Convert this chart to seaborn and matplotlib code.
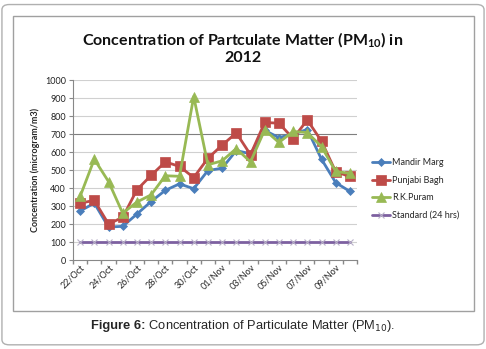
import matplotlib
matplotlib.use("Agg")
import matplotlib.pyplot as plt
from matplotlib.patches import FancyBboxPatch, Rectangle
import seaborn as sns
import pandas as pd

dates = ["22/Oct", "23/Oct", "24/Oct", "25/Oct", "26/Oct", "27/Oct", "28/Oct", "29/Oct",
         "30/Oct", "31/Oct", "01/Nov", "02/Nov", "03/Nov", "04/Nov", "05/Nov", "06/Nov",
         "07/Nov", "08/Nov", "09/Nov", "10/Nov"]
mandir_marg = [272, 316, 183, 187, 255, 325, 387, 423, 396, 497, 510, 608, 590, 720,
               680, 700, 725, 560, 430, 381]
punjabi_bagh = [316, 331, 200, 237, 390, 470, 545, 520, 458, 565, 638, 706, 585, 764,
                760, 675, 778, 660, 490, 464]
rk_puram = [353, 560, 436, 260, 322, 362, 468, 465, 908, 529, 551, 619, 545, 723,
            653, 714, 708, 630, 492, 481]
standard = [100] * 20
series_names = ["Mandir Marg", "Punjabi Bagh", "R.K.Puram", "Standard (24 hrs)"]

sns.set_theme(style="white")
plt.rcParams["font.family"] = ["Lato", "DejaVu Sans"]
plt.rcParams["mathtext.fontset"] = "custom"
plt.rcParams["mathtext.rm"] = "Lato"
plt.rcParams["mathtext.bf"] = "Lato:bold"
plt.rcParams["mathtext.it"] = "Lato:italic"

fig = plt.figure(figsize=(4.86, 3.49), dpi=100)

# outer rounded frame
fig.patches.append(FancyBboxPatch((0.004, 0.012), 0.992, 0.975,
                                  boxstyle="round,pad=0,rounding_size=0.015",
                                  transform=fig.transFigure, fill=False,
                                  edgecolor="#b0b0b0", linewidth=1.0))
# chart box
fig.patches.append(Rectangle((0.027, 0.108), 0.948, 0.845, transform=fig.transFigure,
                             fill=False, edgecolor="#a0a0a0", linewidth=1.0))

ax = fig.add_axes([73 / 486, 1 - 260 / 349, (357 - 73) / 486, (260 - 80) / 349])

colors = ["#4A7EBB", "#BE4B48", "#98B954", "#7D60A0"]
markers = ["D", "s", "^", "x"]
msizes = [4, 7, 7, 5]
values = [mandir_marg, punjabi_bagh, rk_puram, standard]
xs = list(range(len(dates)))
for name, vals, c, m, ms in zip(series_names, values, colors, markers, msizes):
    df = pd.DataFrame({"x": xs, "y": vals})
    mec = c if m != "x" else "#b8b0c8"
    sns.lineplot(data=df, x="x", y="y", ax=ax, color=c, linewidth=2.0, marker=m,
                 markersize=ms, markeredgecolor=mec, markerfacecolor=c,
                 markeredgewidth=0.8 if m == "x" else 0.5, label=name)

ax.set_xlim(-0.5, len(dates) - 0.5)
ax.set_ylim(0, 1000)
ax.set_yticks(range(0, 1001, 100))
ax.tick_params(axis="y", labelsize=6.5, colors="#888888", labelcolor="#222222",
               pad=2, length=3, width=0.8, direction="out", left=True)
ax.set_xticks(xs[::2])
ax.set_xticklabels(dates[::2], rotation=45, ha="right", rotation_mode="anchor", fontsize=6.5)
ax.tick_params(axis="x", pad=2, length=0)
ax.set_xticks([x - 0.5 for x in xs] + [len(dates) - 0.5], minor=True)
ax.tick_params(axis="x", which="minor", length=3, color="#888888", direction="out",
               bottom=True)
ax.set_xlabel("")
ax.set_ylabel("Concentration (microgram/m3)", fontsize=6.5, fontweight="bold", labelpad=4)

for yv in range(100, 1001, 100):
    ax.axhline(yv, color="#7f7f7f" if yv == 700 else "#d0d0d0", linewidth=0.8, zorder=0)
for s in ["top", "right"]:
    ax.spines[s].set_visible(False)
for s in ["left", "bottom"]:
    ax.spines[s].set_color("#888888")
    ax.spines[s].set_linewidth(0.8)

leg = ax.legend(loc="upper left", bbox_to_anchor=(1.04, 0.585), frameon=False,
                fontsize=6.5, handlelength=2.0, handletextpad=0.2, labelspacing=0.95,
                borderaxespad=0)

fig.text(0.5, 0.815, "Concentration of Partculate Matter (PM$_{\\mathbf{10}}$) in\n2012",
         ha="center", va="bottom", fontsize=11.5, fontweight="bold",
         linespacing=1.15, color="#111111")

# caption: bold "Figure 6:" followed by regular text, centred together
cap_y = 0.065
t1 = fig.text(0, cap_y, "Figure 6:", ha="left", va="center", fontsize=9.3,
              fontweight="bold", family=["Liberation Sans"])
t2 = fig.text(0, cap_y, " Concentration of Particulate Matter (PM$_{10}$).", ha="left",
              va="center", fontsize=9.3, family=["Liberation Sans"],
              math_fontfamily="dejavusans")
fig.canvas.draw()
r = fig.canvas.get_renderer()
w1 = t1.get_window_extent(r).width / fig.bbox.width
w2 = t2.get_window_extent(r).width / fig.bbox.width
x0 = 0.5 - (w1 + w2) / 2
t1.set_x(x0)
t2.set_x(x0 + w1)

fig.savefig("out.png", dpi=100)
